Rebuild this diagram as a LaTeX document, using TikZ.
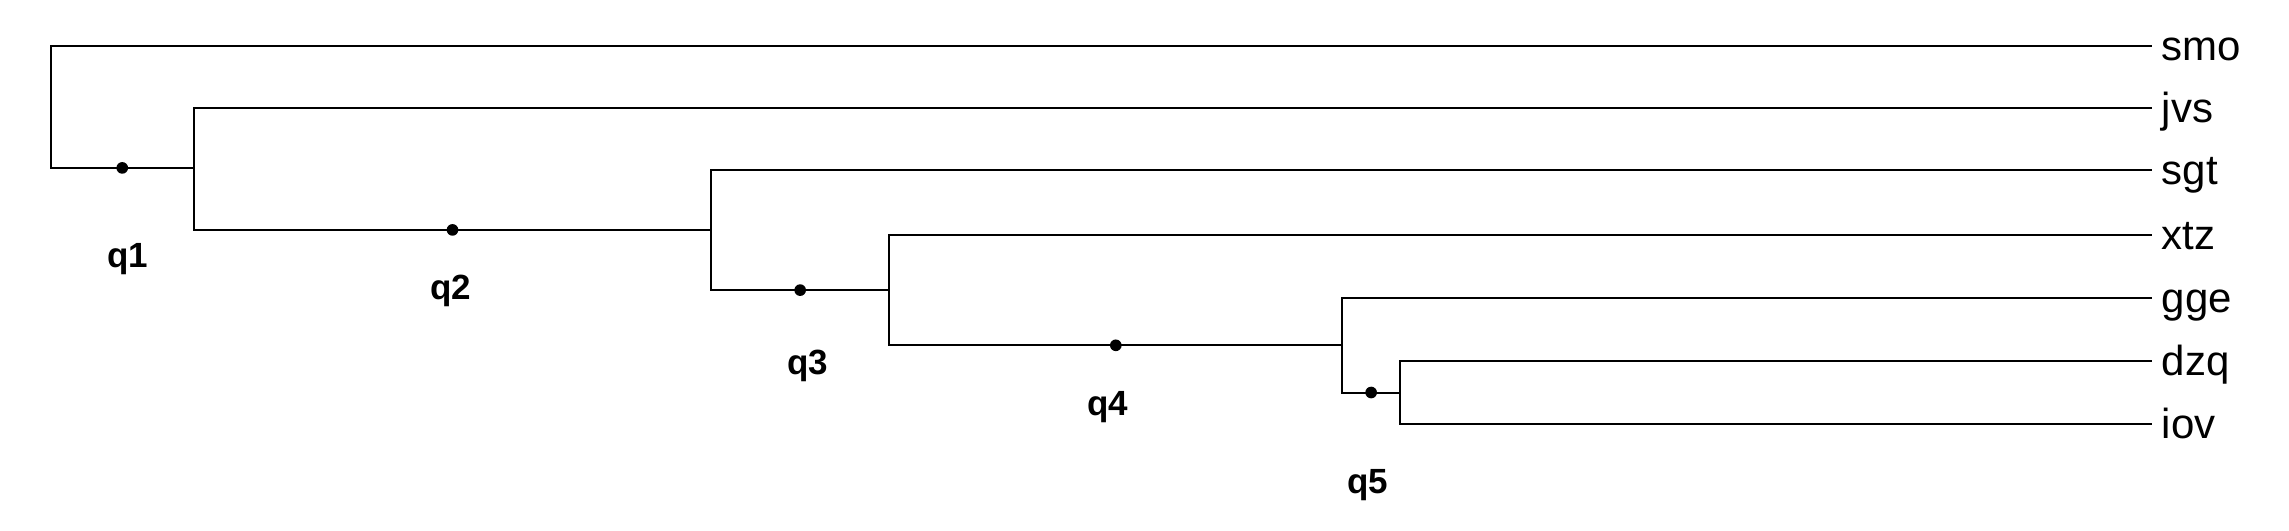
\documentclass[tikz,border=0pt]{standalone}
\usepackage{fontspec}
\setmainfont{Liberation Sans}

\tikzset{
	branch/.style={line width=0.6pt,line cap=rect},
	leaflabel/.style={anchor=base west,inner sep=0pt,yshift=-4.3pt,font=\fontsize{12.6}{15}\selectfont},
	qlabel/.style={inner sep=0pt,font=\fontsize{10.5}{13}\selectfont\bfseries},
	qdot/.style={circle,fill=black,inner sep=0pt,minimum size=3.5pt}
}

\begin{document}
\begin{tikzpicture}[x=0.3pt,y=-0.3pt]

		\useasboundingbox (0,0) rectangle (2289,530);

		% leaf ends
		\coordinate (smo) at (2151,45.7);
		\coordinate (jvs) at (2151,107.7);
		\coordinate (sgt) at (2151,169.7);
		\coordinate (xtz) at (2151,235);
		\coordinate (gge) at (2151,298);
		\coordinate (dzq) at (2151,360.7);
		\coordinate (iov) at (2151,424.3);

		% inner nodes
		\coordinate (n1) at (50.5,106.8);
		\coordinate (n2) at (194,167.9);
		\coordinate (n3) at (711,229.9);
		\coordinate (n4) at (889.3,290.1);
		\coordinate (n5) at (1342.3,345.3);
		\coordinate (n6) at (1400,392.5);

		% branches to the leaves
		\draw[branch] (n1) |- (smo);
		\draw[branch] (n2) |- (jvs);
		\draw[branch] (n3) |- (sgt);
		\draw[branch] (n4) |- (xtz);
		\draw[branch] (n5) |- (gge);
		\draw[branch] (n6) |- (dzq);
		\draw[branch] (n6) |- (iov);

		% inner branches with their points
		\draw[branch] (n1) |- (n2) node[qdot,pos=0.75] (d1) {};
		\draw[branch] (n2) |- (n3) node[qdot,pos=0.75] (d2) {};
		\draw[branch] (n3) |- (n4) node[qdot,pos=0.75] (d3) {};
		\draw[branch] (n4) |- (n5) node[qdot,pos=0.75] (d4) {};
		\draw[branch] (n5) |- (n6) node[qdot,pos=0.75] (d5) {};

		% leaf names
		\node[leaflabel] (smo-l) at (2161,45.7) {smo};
		\node[leaflabel] (jvs-l) at (2161,107.7) {jvs};
		\node[leaflabel] (sgt-l) at (2161,169.7) {sgt};
		\node[leaflabel] (xtz-l) at (2161,235) {xtz};
		\node[leaflabel] (gge-l) at (2161,298) {gge};
		\node[leaflabel] (dzq-l) at (2161,360.7) {dzq};
		\node[leaflabel] (iov-l) at (2161,424.3) {iov};

		% q labels
		\node[qlabel] (q1) at (128,259) {q1};
		\node[qlabel] (q2) at (451,291) {q2};
		\node[qlabel] (q3) at (808,366) {q3};
		\node[qlabel] (q4) at (1108,407) {q4};
		\node[qlabel] (q5) at (1368,485) {q5};

	\end{tikzpicture}
\end{document}
